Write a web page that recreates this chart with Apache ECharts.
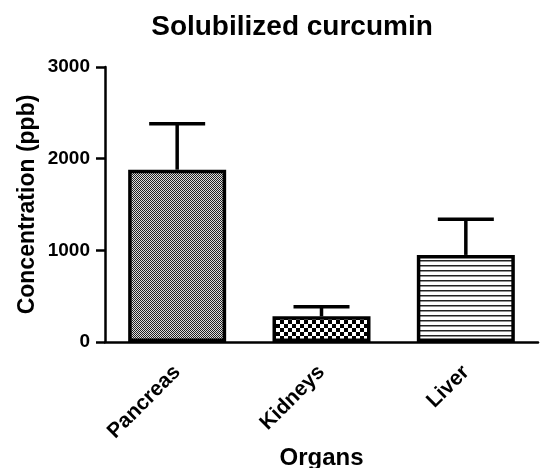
<!DOCTYPE html>
<html>
<head>
<meta charset="utf-8">
<script src="https://cdn.jsdelivr.net/npm/echarts@6/dist/echarts.min.js"></script>
<style>
  html, body { margin: 0; padding: 0; background: #fff; }
  #chart { width: 542px; height: 468px; }
</style>
</head>
<body>
<div id="chart"></div>
<script>
// data
var organs = ['Pancreas', 'Kidneys', 'Liver'];
var meanValues = [1880, 280, 950];
var errUpper = [2380, 385, 1340];   // top of the error bar (mean + SD)
var yTicks = [0, 1000, 2000, 3000];

var FONT = '"Liberation Sans", Arial, sans-serif';

// fill patterns for the bars
function makePattern(kind) {
    var c = document.createElement('canvas');
    var ctx = c.getContext('2d');
    if (kind === 'fine') {
        c.width = 2; c.height = 2;
        ctx.fillStyle = '#ddd'; ctx.fillRect(0, 0, 2, 2);
        ctx.fillStyle = '#222';
        ctx.fillRect(0, 0, 1, 1); ctx.fillRect(1, 1, 1, 1);
    } else if (kind === 'checker') {
        c.width = 8; c.height = 8;
        ctx.fillStyle = '#fff'; ctx.fillRect(0, 0, 8, 8);
        ctx.fillStyle = '#000';
        ctx.fillRect(0, 0, 4, 4); ctx.fillRect(4, 4, 4, 4);
    } else {
        c.width = 5; c.height = 5;
        ctx.fillStyle = '#fff'; ctx.fillRect(0, 0, 5, 5);
        ctx.fillStyle = '#222';
        ctx.fillRect(0, 0, 5, 1.5);
    }
    return { image: c, repeat: 'repeat' };
}
var patterns = [makePattern('fine'), makePattern('checker'), makePattern('lines')];

var myChart = echarts.init(document.getElementById('chart'), null, { renderer: 'canvas' });

var barData = meanValues.map(function (v, i) {
    return { value: v, itemStyle: { color: patterns[i] } };
});

var errData = organs.map(function (o, i) {
    return [i, meanValues[i], errUpper[i]];
});

var option = {
    animation: false,
    backgroundColor: '#fff',
    textStyle: { fontFamily: FONT },
    title: {
        text: 'Solubilized curcumin',
        left: 287,
        top: 8,
        textAlign: 'center',
        textStyle: { fontFamily: FONT, fontWeight: 'bold', fontSize: 28, color: '#000' }
    },
    grid: { left: 105, right: 4, top: 67, bottom: 126, containLabel: false, outerBoundsMode: 'none' },
    xAxis: {
        type: 'category',
        data: organs,
        name: 'Organs',
        nameLocation: 'middle',
        nameGap: 104,
        nameMoveOverlap: false,
        nameTextStyle: { fontFamily: FONT, fontWeight: 'bold', fontSize: 24, color: '#000' },
        axisLine: { lineStyle: { color: '#000', width: 2.5 } },
        axisTick: { alignWithLabel: true, length: 9, lineStyle: { color: '#000', width: 2.5 } },
        axisLabel: {
            rotate: 45, margin: 27, color: '#000',
            fontFamily: FONT, fontWeight: 'bold', fontSize: 21
        },
        splitLine: { show: false }
    },
    yAxis: {
        type: 'value',
        min: yTicks[0],
        max: yTicks[yTicks.length - 1],
        interval: 1000,
        name: 'Concentration (ppb)',
        nameLocation: 'middle',
        nameGap: 66,
        nameMoveOverlap: false,
        nameTextStyle: { fontFamily: FONT, fontWeight: 'bold', fontSize: 23, color: '#000' },
        axisLine: { show: true, lineStyle: { color: '#000', width: 2.5 } },
        axisTick: { show: true, inside: false, length: 9, lineStyle: { color: '#000', width: 2.5 } },
        axisLabel: {
            margin: 15, color: '#000', fontFamily: FONT, fontWeight: 'bold', fontSize: 19,
            formatter: function (v) { return String(v); }
        },
        splitLine: { show: false }
    },
    series: [
        {
            type: 'custom',
            name: 'err',
            z: 1,
            renderItem: function (params, api) {
                var x = api.value(0);
                var lo = api.coord([x, api.value(1)]);
                var hi = api.coord([x, api.value(2)]);
                var half = 28;
                var style = { stroke: '#000', lineWidth: 3.5 };
                return {
                    type: 'group',
                    children: [
                        { type: 'line', shape: { x1: lo[0], y1: lo[1], x2: hi[0], y2: hi[1] }, style: style },
                        { type: 'line', shape: { x1: hi[0] - half, y1: hi[1], x2: hi[0] + half, y2: hi[1] }, style: style }
                    ]
                };
            },
            data: errData
        },
        {
            type: 'bar',
            z: 2,
            barWidth: 98,
            itemStyle: { borderColor: '#000', borderWidth: 3.5 },
            data: barData
        }
    ]
};

myChart.setOption(option);
</script>
</body>
</html>
